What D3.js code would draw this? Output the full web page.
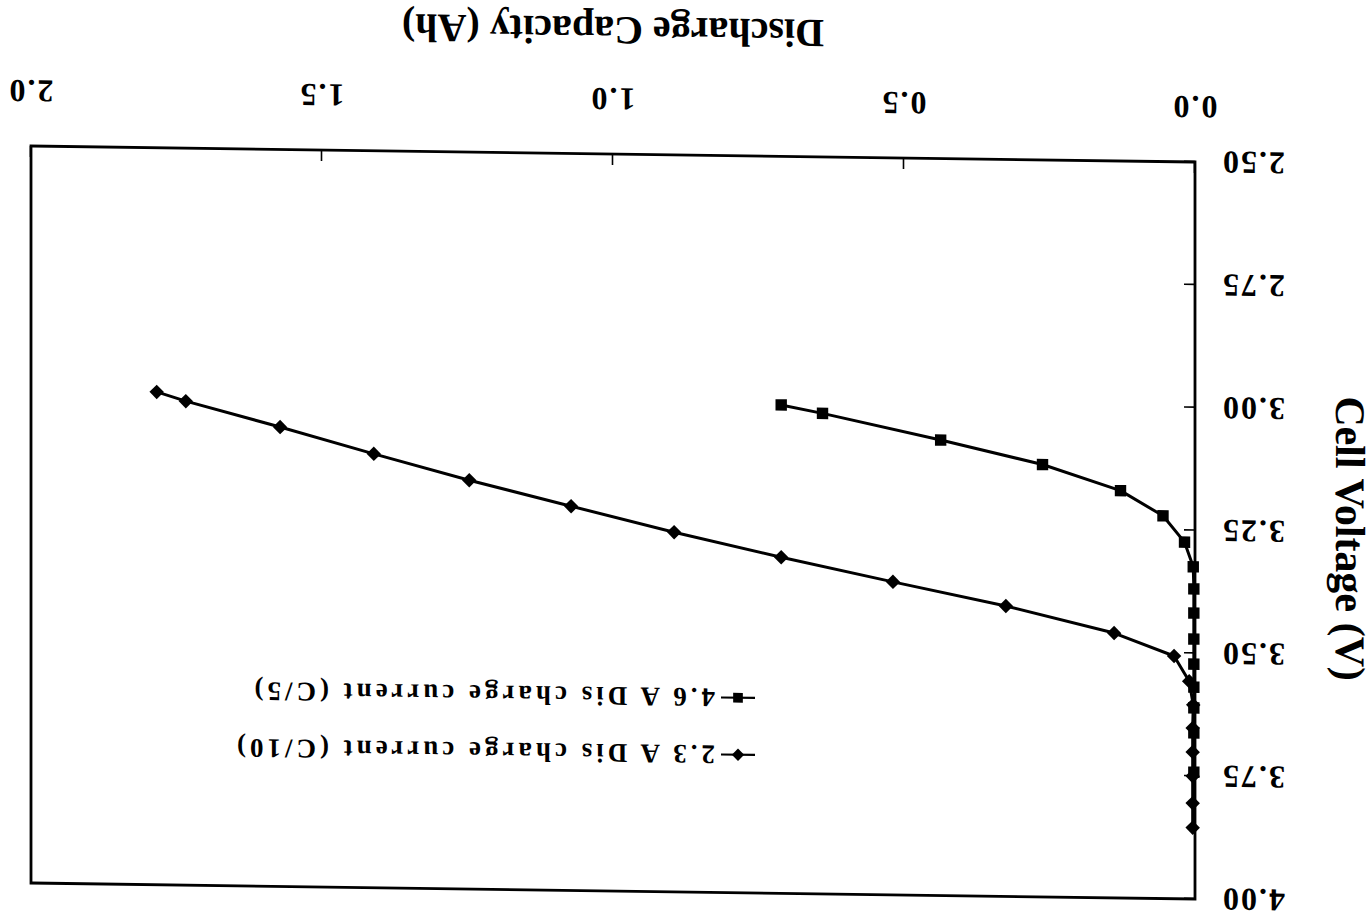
<!DOCTYPE html>
<html>
<head>
<meta charset="utf-8">
<script src="https://cdn.jsdelivr.net/npm/d3@7"></script>
<style>
  body { margin: 0; background: #fff; }
  svg { display: block; }
  text { font-family: "Liberation Serif", "Times New Roman", serif; font-weight: bold; fill: #000; }
</style>
</head>
<body>
<svg id="chart" width="1372" height="923"></svg>
<script>
// ---- data (read from the scanned, upside-down figure) ----
const capacityTicks = [0.0, 0.5, 1.0, 1.5, 2.0];
const voltageTicks = [2.50, 2.75, 3.00, 3.25, 3.50, 3.75, 4.00];

// 2.3 A discharge (C/10), diamonds
const c10Capacity = [0.004, 0.004, 0.004, 0.004, 0.004, 0.003, 0.010, 0.036, 0.139, 0.325, 0.519, 0.711, 0.895, 1.072, 1.247, 1.411, 1.572, 1.734, 1.784];
const c10Voltage  = [3.855, 3.805, 3.750, 3.701, 3.652, 3.605, 3.557, 3.506, 3.461, 3.409, 3.363, 3.316, 3.268, 3.218, 3.168, 3.117, 3.065, 3.015, 2.997];

// 4.6 A discharge (C/5), squares
const c5Capacity = [0.002, 0.002, 0.002, 0.002, 0.002, 0.002, 0.002, 0.002, 0.003, 0.018, 0.055, 0.128, 0.262, 0.437, 0.640, 0.711];
const c5Voltage  = [3.742, 3.662, 3.611, 3.569, 3.522, 3.471, 3.418, 3.369, 3.324, 3.274, 3.221, 3.171, 3.120, 3.073, 3.022, 3.006];

const seriesNames = ["2.3 A Dis charge current (C/10)", "4.6 A Dis charge current (C/5)"];
const xTitle = "Discharge Capacity (Ah)";
const yTitle = "Cell Voltage (V)";

// ---- layout ----
const W = 1164, H = 737;
const skew = 16 / 1164;           // slight scan skew
const svg = d3.select("#chart");
// the scanned page is upside down: rotate 180 degrees (plus slight skew)
const g = svg.append("g")
  .attr("transform", `matrix(-1,${-skew},0,-1,1195,899)`);

const x = d3.scaleLinear().domain([0, 2]).range([0, W]);
const y = d3.scaleLinear().domain([2.5, 4]).range([H, 0]);

// axes
const xAxis = d3.axisBottom(x).tickValues(capacityTicks)
  .tickSizeInner(-11).tickSizeOuter(0).tickPadding(43)
  .tickFormat(d3.format(".1f"));
const gx = g.append("g").attr("transform", `translate(0,${H})`).call(xAxis);
gx.select(".domain").remove();
gx.selectAll(".tick line").attr("stroke", "#000").attr("stroke-width", 1.6);
gx.selectAll(".tick text").style("font-size", "32px").style("letter-spacing", "2px");

const yAxis = d3.axisLeft(y).tickValues(voltageTicks)
  .tickSizeInner(-11).tickSizeOuter(0).tickPadding(26)
  .tickFormat(d3.format(".2f"));
const gy = g.append("g").call(yAxis);
gy.select(".domain").remove();
gy.selectAll(".tick line").attr("stroke", "#000").attr("stroke-width", 1.6);
gy.selectAll(".tick text").style("font-size", "32px").style("letter-spacing", "2px");

// frame
g.append("rect").attr("x", 0).attr("y", 0).attr("width", W).attr("height", H)
  .attr("fill", "none").attr("stroke", "#000").attr("stroke-width", 2.8);

// titles
g.append("text").attr("x", W / 2).attr("y", H + 137)
  .attr("text-anchor", "middle").style("font-size", "40px").text(xTitle);
g.append("text").attr("transform", `translate(-141,${H / 2 - 6}) rotate(-90)`)
  .attr("text-anchor", "middle").style("font-size", "42px").text(yTitle);

// series
const line = d3.line().x(d => x(d[0])).y(d => y(d[1]));
const c10 = c10Capacity.map((c, i) => [c, c10Voltage[i]]);
const c5 = c5Capacity.map((c, i) => [c, c5Voltage[i]]);

const diamond = d3.symbol().type(d3.symbolSquare).size(105);
const square = d3.symbol().type(d3.symbolSquare).size(130);

function drawSeries(data, sym, rot) {
  g.append("path").datum(data).attr("d", line)
    .attr("fill", "none").attr("stroke", "#000").attr("stroke-width", 3)
    .attr("stroke-linejoin", "round");
  g.append("g").selectAll("path").data(data).join("path")
    .attr("d", sym)
    .attr("transform", d => `translate(${x(d[0])},${y(d[1])}) rotate(${rot})`)
    .attr("fill", "#000");
}
drawSeries(c10, diamond, 45);
drawSeries(c5, square, 0);

// legend
const legendRows = [
  { name: seriesNames[0], sym: diamond, rot: 45, yPos: 138 },
  { name: seriesNames[1], sym: square, rot: 0, yPos: 195 }
];
const lg = g.append("g").attr("transform", "translate(440,0)");
legendRows.forEach(r => {
  lg.append("line").attr("x1", 0).attr("x2", 34).attr("y1", r.yPos).attr("y2", r.yPos)
    .attr("stroke", "#000").attr("stroke-width", 2.2);
  lg.append("path").attr("d", r.sym).attr("transform", `translate(17,${r.yPos}) rotate(${r.rot}) scale(0.85)`);
  lg.append("text").attr("x", 40).attr("y", r.yPos).attr("dy", "0.33em")
    .style("font-size", "27px").style("letter-spacing", "4px").text(r.name);
});
</script>
</body>
</html>
